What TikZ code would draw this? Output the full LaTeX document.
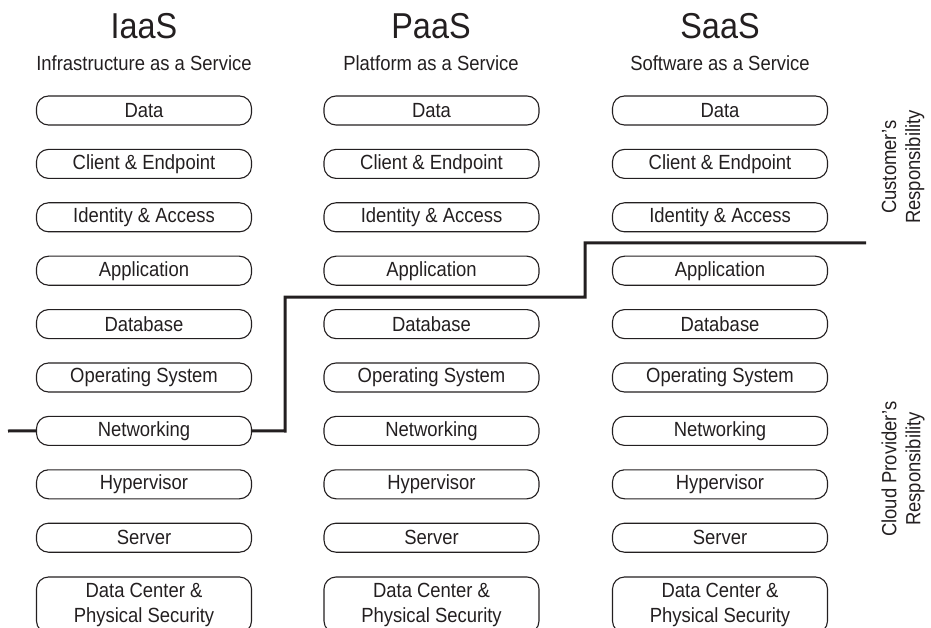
\documentclass[tikz,border=0pt]{standalone}
\usepackage{fontspec}
\setmainfont{Liberation Sans}[FakeStretch=0.9]
\definecolor{ink}{HTML}{231F20}
\begin{document}
\begin{tikzpicture}[x=1pt,y=-1pt,
  layer/.style={draw=ink,line width=1.1pt,rounded corners=12pt,minimum width=215pt,minimum height=29pt,inner sep=0pt,font=\fontsize{20.5}{24.5}\selectfont,text=ink,align=center},
  title/.style={font=\fontsize{36}{40}\selectfont,text=ink},
  subtitle/.style={font=\fontsize{20.5}{24.5}\selectfont,text=ink},
  side/.style={font=\fontsize{20.5}{24}\selectfont,text=ink,align=center,rotate=90},
  resp/.style={draw=ink,line width=3pt}]
\useasboundingbox (0,0) rectangle (931,628);
% titles
\node[title] (tI) at (144,26) {IaaS};
\node[title] (tP) at (431,26) {PaaS};
\node[title] (tS) at (720,26) {SaaS};
\node[subtitle] (sI) at (144,63) {Infrastructure as a Service};
\node[subtitle] (sP) at (431,63) {Platform as a Service};
\node[subtitle] (sS) at (720,63) {Software as a Service};
% layers
\foreach \c/\x in {I/144,P/431.5,S/720}{
  \foreach \n/\t [count=\k from 0] in {1/Data,2/Client \& Endpoint,3/Identity \& Access,4/Application,5/Database,6/Operating System,7/Networking,8/Hypervisor,9/Server}{
    \node[layer] (\c\n) at (\x,110.5+53.4*\k) {\t};
  }
  \node[layer,minimum height=56pt] (\c10) at (\x,605) {Data Center \&\\Physical Security};
}
% responsibility line
\coordinate (a0) at (8,431);
\coordinate (a1) at (285,431);
\coordinate (a2) at (285,297);
\coordinate (a3) at (585,297);
\coordinate (a4) at (585,243);
\coordinate (a5) at (866,243);
\draw[resp] (a0) -- (I7.west);
\draw[resp] (I7.east) -- (a1) -- (a2) -- (a3) -- (a4) -- (a5);
% side labels
\node[side] (cust) at (903,167) {Customer's\\Responsibility};
\node[side] (prov) at (903,469) {Cloud Provider's\\Responsibility};
\end{tikzpicture}
\end{document}
